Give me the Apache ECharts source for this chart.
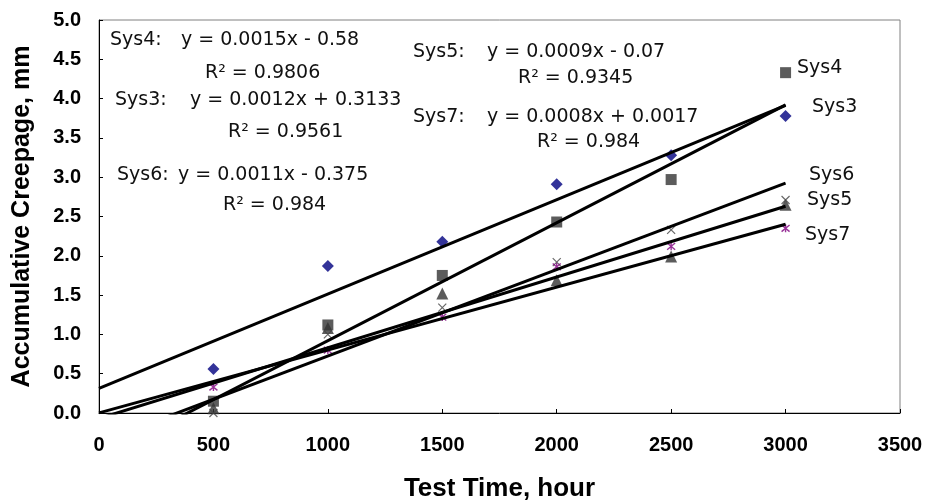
<!DOCTYPE html>
<html>
<head>
<meta charset="utf-8">
<title>Accumulative Creepage vs Test Time</title>
<script src="https://cdn.jsdelivr.net/npm/echarts@6/dist/echarts.min.js"></script>
<style>
  html, body { margin: 0; padding: 0; background: #ffffff; }
  #chart { width: 925px; height: 504px; }
</style>
</head>
<body>
<div id="chart"></div>
<script>
// Measured creepage (mm) at each test time (hours)
const hours = [500, 1000, 1500, 2000, 2500, 3000];
const sys3 = [0.56, 1.87, 2.18, 2.91, 3.28, 3.78];
const sys4 = [0.15, 1.12, 1.75, 2.43, 2.97, 4.33];
const sys5 = [0.06, 1.08, 1.52, 1.69, 1.99, 2.65];
const sys6 = [0.00, 1.00, 1.34, 1.92, 2.33, 2.71];
const sys7 = [0.33, 0.80, 1.22, 1.86, 2.12, 2.35];

// Linear trendlines: y = slope * x + intercept
const fitNames = ['Sys4', 'Sys3', 'Sys6', 'Sys5', 'Sys7'];
const fitSlopes = [0.0015, 0.0012, 0.0011, 0.0009, 0.0008];
const fitIntercepts = [-0.58, 0.3133, -0.375, -0.07, 0.0017];
const fitR2 = ['0.9806', '0.9561', '0.984', '0.9345', '0.984'];
const fitSpan = [0, 3000];

// Axis ticks
const xTicks = [0, 500, 1000, 1500, 2000, 2500, 3000, 3500];
const yTicks = [0, 0.5, 1, 1.5, 2, 2.5, 3, 3.5, 4, 4.5, 5];

const FONT = '"Liberation Sans", Arial, sans-serif';
const NOTE_FONT = '"DejaVu Sans", Verdana, sans-serif';
const chart = echarts.init(document.getElementById('chart'), null, { renderer: 'canvas' });

const pairs = ys => hours.map((h, i) => [h, ys[i]]);

const xMark = 'path://M0,0L10,10M10,0L0,10';
const starMark = 'path://M0,0L10,10M10,0L0,10M5,-1L5,11';

const scatterSeries = [
  { name: 'Sys3', data: pairs(sys3), symbol: 'diamond', symbolSize: 12,
    itemStyle: { color: '#000080' } },
  { name: 'Sys4', data: pairs(sys4), symbol: 'rect', symbolSize: 11,
    itemStyle: { color: '#333333' } },
  { name: 'Sys5', data: pairs(sys5), symbol: 'triangle', symbolSize: 12,
    itemStyle: { color: '#333333' } },
  { name: 'Sys6', data: pairs(sys6), symbol: xMark, symbolSize: 8,
    itemStyle: { color: 'transparent', borderColor: '#444444', borderWidth: 1.2 } },
  { name: 'Sys7', data: pairs(sys7), symbol: starMark, symbolSize: 8,
    itemStyle: { color: 'transparent', borderColor: '#800080', borderWidth: 1.4 } }
].map(s => Object.assign({ type: 'scatter', z: 3, silent: true }, s));

const trendSeries = fitNames.map((name, i) => ({
  type: 'line',
  name: name + ' fit',
  data: fitSpan.map(x => [x, fitSlopes[i] * x + fitIntercepts[i]]),
  symbol: 'none',
  clip: true,
  z: 4,
  silent: true,
  lineStyle: { color: '#000000', width: 3 }
}));

// Equation text for each trendline
function equation(i) {
  const b = fitIntercepts[i];
  return 'y = ' + fitSlopes[i] + 'x ' + (b < 0 ? '- ' : '+ ') + Math.abs(b);
}

const textStyle = { font: '19px ' + NOTE_FONT, fill: '#111111', verticalAlign: 'middle' };
function txt(x, y, text) {
  return { type: 'text', x: x, y: y, silent: true, style: Object.assign({ text: text }, textStyle) };
}

// Placement of each fit's label block: [name x, name y, equation x, R² x, R² y]
const eqPlace = {
  Sys4: [110, 40, 181, 205, 73],
  Sys3: [115, 100, 190, 228, 132],
  Sys6: [117, 175, 178, 223, 205],
  Sys5: [413, 52, 487, 518, 78],
  Sys7: [413, 117, 487, 537, 142]
};
// Series tags at the right end of the data
const tagPlace = {
  Sys4: [797, 68], Sys3: [812, 107], Sys6: [809, 175], Sys5: [807, 200], Sys7: [805, 235]
};

const graphics = [];
fitNames.forEach((name, i) => {
  const p = eqPlace[name];
  graphics.push(txt(p[0], p[1], name + ':'));
  graphics.push(txt(p[2], p[1], equation(i)));
  graphics.push(txt(p[3], p[4], 'R\u00B2 = ' + fitR2[i]));
  const t = tagPlace[name];
  graphics.push(txt(t[0], t[1], name));
});

const option = {
  backgroundColor: '#ffffff',
  animation: false,
  grid: {
    left: 99, top: 20, width: 801, height: 393,
    outerBoundsMode: 'none',
    show: true, borderColor: '#808080', borderWidth: 1, backgroundColor: '#ffffff'
  },
  xAxis: {
    type: 'value',
    min: xTicks[0], max: xTicks[xTicks.length - 1], interval: 500,
    name: 'Test Time, hour',
    nameLocation: 'middle',
    nameGap: 63,
    nameTextStyle: { fontFamily: FONT, fontSize: 26, fontWeight: 'bold', color: '#000' },
    axisLine: { show: true, lineStyle: { color: '#000', width: 1 } },
    axisTick: { show: true, inside: true, length: 4, lineStyle: { color: '#000' } },
    axisLabel: {
      margin: 22, fontFamily: FONT, fontSize: 20, fontWeight: 'bold', color: '#000',
      formatter: v => String(v)
    },
    splitLine: { show: false }
  },
  yAxis: {
    type: 'value',
    min: yTicks[0], max: yTicks[yTicks.length - 1], interval: 0.5,
    name: 'Accumulative Creepage, mm',
    nameLocation: 'middle',
    nameGap: 64,
    nameTextStyle: { fontFamily: FONT, fontSize: 25, fontWeight: 'bold', color: '#000' },
    axisLine: { show: true, lineStyle: { color: '#000', width: 1 } },
    axisTick: { show: true, inside: true, length: 4, lineStyle: { color: '#000' } },
    axisLabel: {
      margin: 18, fontFamily: FONT, fontSize: 20, fontWeight: 'bold', color: '#000',
      formatter: v => v.toFixed(1)
    },
    splitLine: { show: false }
  },
  graphic: graphics,
  series: scatterSeries.concat(trendSeries)
};

chart.setOption(option);
</script>
</body>
</html>
